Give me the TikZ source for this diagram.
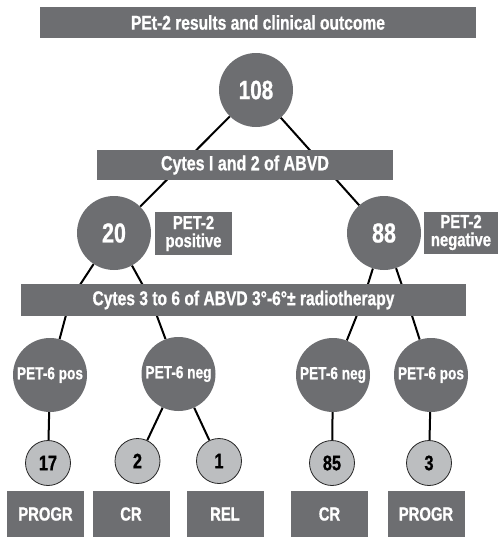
\documentclass[tikz,border=0pt]{standalone}
\usepackage{fontspec}
\setmainfont{Liberation Sans}[FakeStretch=0.78, BoldFont={Liberation Sans Bold}, BoldFeatures={FakeBold=0.8}]
\usetikzlibrary{backgrounds}
\definecolor{boxgrey}{HTML}{6D6E71}
\definecolor{dotgrey}{HTML}{BCBEC0}
\tikzstyle{bar}=[fill=boxgrey, text=white, inner sep=0pt, font=\bfseries\fontsize{20}{21}\selectfont]
\tikzstyle{bigdot}=[circle, fill=boxgrey, text=white, minimum size=74pt, inner sep=0pt]
\tikzstyle{smalldot}=[circle, fill=dotgrey, draw=black!85, line width=0.8pt, minimum size=45pt, inner sep=0pt, font=\bfseries\fontsize{21}{22}\selectfont]
\tikzstyle{result}=[fill=boxgrey, text=white, minimum width=77pt, minimum height=46pt, inner sep=0pt, font=\bfseries\fontsize{19}{20}\selectfont]
\tikzstyle{link}=[draw, line width=2pt]

\begin{document}
\begin{tikzpicture}[x=1pt, y=-1pt]
\useasboundingbox (0,0) rectangle (498,539);

\node (title) [bar, minimum width=436pt, minimum height=31pt] at (258,22.5) {PEt-2 results and clinical outcome};
\node (n108) [bigdot, font=\bfseries\fontsize{26.5}{28}\selectfont] at (256,90) {108};
\node (cycles12) [bar, minimum width=296pt, minimum height=30pt, font=\bfseries\fontsize{20.5}{22}\selectfont] at (245,165) {Cytes I and 2 of ABVD};

\node (n20) [bigdot, font=\bfseries\fontsize{27.5}{29}\selectfont] at (114,233) {20};
\node (n88) [bigdot, font=\bfseries\fontsize{27.5}{29}\selectfont] at (384,233) {88};
\node (pospet) [bar, minimum width=77pt, minimum height=43pt, align=center, font=\bfseries\fontsize{19}{18}\selectfont] at (193.5,233.5) {PET-2\\positive};
\node (negpet) [bar, minimum width=74pt, minimum height=42pt, align=center, font=\bfseries\fontsize{19}{18}\selectfont] at (461,232.5) {PET-2\\negative};

\node (cycles36) [bar, minimum width=445pt, minimum height=32pt] at (243.5,300) {Cytes 3 to 6 of ABVD 3°-6°± radiotherapy};

\node (posa) [bigdot, font=\bfseries\fontsize{17.5}{18}\selectfont] at (50,375) {PET-6 pos};
\node (nega) [bigdot, font=\bfseries\fontsize{17.5}{18}\selectfont] at (178.5,374) {PET-6 neg};
\node (negb) [bigdot, font=\bfseries\fontsize{17.5}{18}\selectfont] at (333,375) {PET-6 neg};
\node (posb) [bigdot, font=\bfseries\fontsize{17.5}{18}\selectfont] at (431,375) {PET-6 pos};

\node (r17) [smalldot] at (48,463) {17};
\node (r2) [smalldot] at (137.5,461) {2};
\node (r1) [smalldot] at (219,461) {1};
\node (r85) [smalldot] at (332,463) {85};
\node (r3) [smalldot] at (429,463) {3};

\node (progra) [result] at (45.5,514) {PROGR};
\node (cra) [result] at (131,514) {CR};
\node (rel) [result] at (225,514) {REL};
\node (crb) [result] at (329.5,514) {CR};
\node (progrb) [result] at (426,514) {PROGR};

% connectors behind the bars
\begin{scope}[on background layer]
\draw [link] (n108) -- (n20);
\draw [link] (n108) -- (n88);
\draw [link] (n20) -- (70,300) -- (posa);
\draw [link] (n20) -- (151,300) -- (nega);
\draw [link] (n88) -- (363,300) -- (negb);
\draw [link] (n88) -- (407,300) -- (posb);
\draw [link] (posa) -- (r17);
\draw [link] (nega) -- (r2);
\draw [link] (nega) -- (r1);
\draw [link] (negb) -- (r85);
\draw [link] (posb) -- (r3);
\end{scope}

\end{tikzpicture}
\end{document}
